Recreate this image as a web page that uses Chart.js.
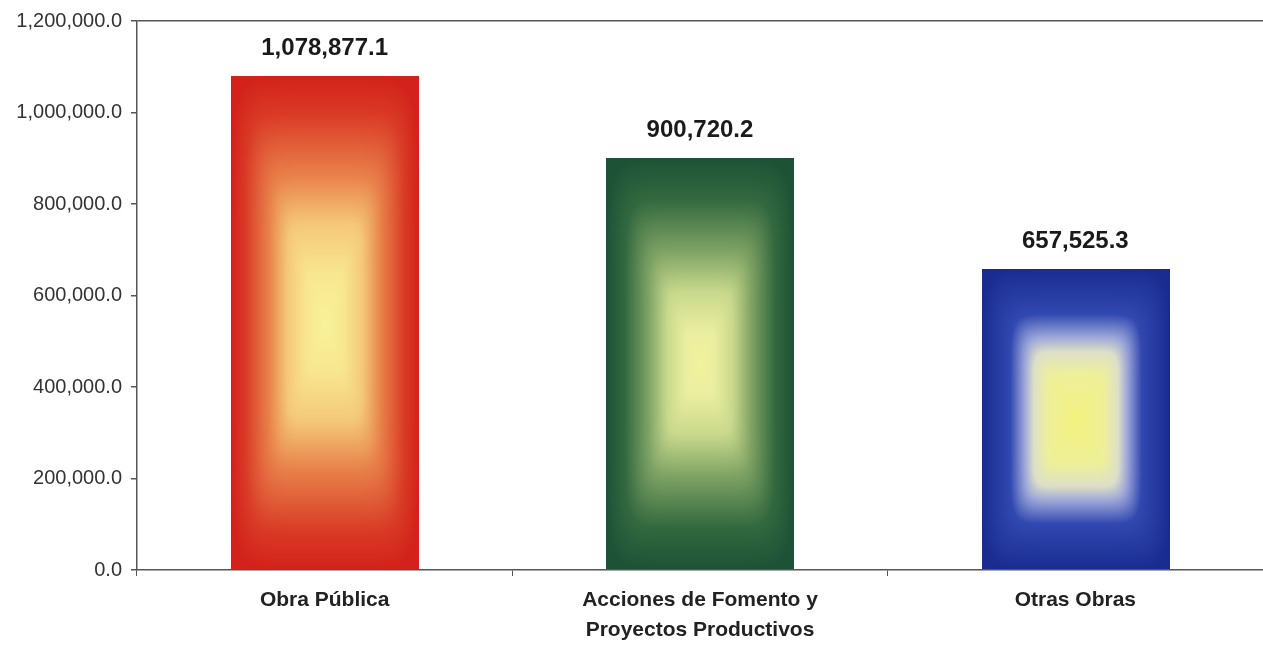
<!DOCTYPE html>
<html>
<head>
<meta charset="utf-8">
<script src="https://cdn.jsdelivr.net/npm/chart.js@4/dist/chart.umd.min.js"></script>
<style>
  html, body { margin: 0; padding: 0; background: #ffffff; }
  #wrap { width: 1263px; height: 646px; }
</style>
</head>
<body>
<div id="wrap"><canvas id="chart"></canvas></div>
<script>
// data
const categories = ['Obra Pública', ['Acciones de Fomento y', 'Proyectos Productivos'], 'Otras Obras'];
const values = [1078877.1, 900720.2, 657525.3];
const valueLabels = ['1,078,877.1', '900,720.2', '657,525.3'];

// gradient colors: edge (0) -> center (1)
const barGradients = [
  [[0, '#d2221b'], [0.15, '#d93a26'], [0.4, '#e8804a'], [0.6, '#f4c878'], [0.8, '#f8e690'], [1, '#f8f29a']],
  [[0, '#1d5237'], [0.2, '#33683f'], [0.45, '#7ea264'], [0.65, '#c8d88c'], [0.85, '#eaeea0'], [1, '#f2f29a']],
  [[0, '#1a2c90'], [0.3, '#3148b0'], [0.45, '#9aa4d8'], [0.55, '#dcdfc8'], [0.7, '#eef09a'], [1, '#f2f27e']]
];

const fmt = v => v.toLocaleString('en-US', { minimumFractionDigits: 1, maximumFractionDigits: 1 });

function hexRgb(h) {
  return [parseInt(h.slice(1, 3), 16), parseInt(h.slice(3, 5), 16), parseInt(h.slice(5, 7), 16)];
}

function colorAt(stops, t) {
  for (let k = 1; k < stops.length; k++) {
    if (t <= stops[k][0]) {
      const a = hexRgb(stops[k - 1][1]), b = hexRgb(stops[k][1]);
      const f = (t - stops[k - 1][0]) / (stops[k][0] - stops[k - 1][0]);
      return [a[0] + (b[0] - a[0]) * f, a[1] + (b[1] - a[1]) * f, a[2] + (b[2] - a[2]) * f];
    }
  }
  return hexRgb(stops[stops.length - 1][1]);
}

// rectangular "from center" gradient, painted pixel by pixel inside each bar
const rectGradient = {
  id: 'rectGradient',
  beforeDatasetsDraw(chart) {
    const ctx = chart.ctx;
    const meta = chart.getDatasetMeta(0);
    meta.data.forEach((bar, i) => {
      const p = bar.getProps(['x', 'y', 'base', 'width'], true);
      const l = Math.round(p.x - p.width / 2);
      const t = Math.round(Math.min(p.y, p.base));
      const w = Math.round(p.width);
      const h = Math.round(Math.abs(p.base - p.y));
      const off = document.createElement('canvas');
      off.width = w; off.height = h;
      const octx = off.getContext('2d');
      const img = octx.createImageData(w, h);
      const hw = w / 2, hh = h / 2;
      const stops = barGradients[i];
      for (let yy = 0; yy < h; yy++) {
        for (let xx = 0; xx < w; xx++) {
          const dx = Math.abs(xx + 0.5 - hw) / hw;
          const dy = Math.abs(yy + 0.5 - hh) / hh;
          const d = Math.min(1, Math.pow(Math.pow(dx, 8) + Math.pow(dy, 8), 1 / 8));
          const c = colorAt(stops, 1 - d);
          const idx = (yy * w + xx) * 4;
          img.data[idx] = c[0];
          img.data[idx + 1] = c[1];
          img.data[idx + 2] = c[2];
          img.data[idx + 3] = 255;
        }
      }
      octx.putImageData(img, 0, 0);
      ctx.drawImage(off, l, t);
    });
  }
};

// value labels above bars
const valueLabelsPlugin = {
  id: 'valueLabels',
  afterDatasetsDraw(chart) {
    const ctx = chart.ctx;
    const meta = chart.getDatasetMeta(0);
    ctx.save();
    ctx.font = 'bold 24px "Liberation Sans", Arial, sans-serif';
    ctx.fillStyle = '#1a1a1a';
    ctx.textAlign = 'center';
    ctx.textBaseline = 'bottom';
    meta.data.forEach((bar, i) => {
      ctx.fillText(valueLabels[i], bar.x, bar.y - 16);
    });
    ctx.restore();
  }
};

new Chart(document.getElementById('chart'), {
  type: 'bar',
  data: {
    labels: categories,
    datasets: [{
      data: values,
      backgroundColor: 'rgba(0,0,0,0)',
      borderWidth: 0,
      barPercentage: 0.5,
      categoryPercentage: 1.0
    }]
  },
  options: {
    responsive: true,
    maintainAspectRatio: false,
    animation: false,
    layout: { padding: { top: 19, right: -6, left: 0, bottom: 0 } },
    plugins: {
      legend: { display: false },
      tooltip: { enabled: false }
    },
    scales: {
      x: {
        grid: { display: true, drawOnChartArea: false, offset: true, tickLength: 6, color: '#555', tickColor: '#555' },
        border: { display: true, color: '#555', width: 1.5 },
        ticks: {
          color: '#222',
          padding: 10,
          maxRotation: 0,
          autoSkip: false,
          font: { family: '"Liberation Sans", Arial, sans-serif', size: 21, weight: 'bold', lineHeight: 1.4 }
        },
        afterFit: scale => { scale.height = 76; }
      },
      y: {
        min: 0,
        max: 1200000,
        ticks: {
          stepSize: 200000,
          color: '#333',
          padding: 9,
          font: { family: '"Liberation Sans", Arial, sans-serif', size: 20 },
          callback: v => fmt(v)
        },
        grid: {
          tickLength: 6,
          tickColor: '#555',
          color: c => (c.tick && c.tick.value === 1200000) ? '#555' : 'rgba(0,0,0,0)',
          lineWidth: 1.5
        },
        border: { display: true, color: '#555', width: 1.5 },
        afterFit: scale => { scale.width = 137; }
      }
    }
  },
  plugins: [rectGradient, valueLabelsPlugin]
});
</script>
</body>
</html>
